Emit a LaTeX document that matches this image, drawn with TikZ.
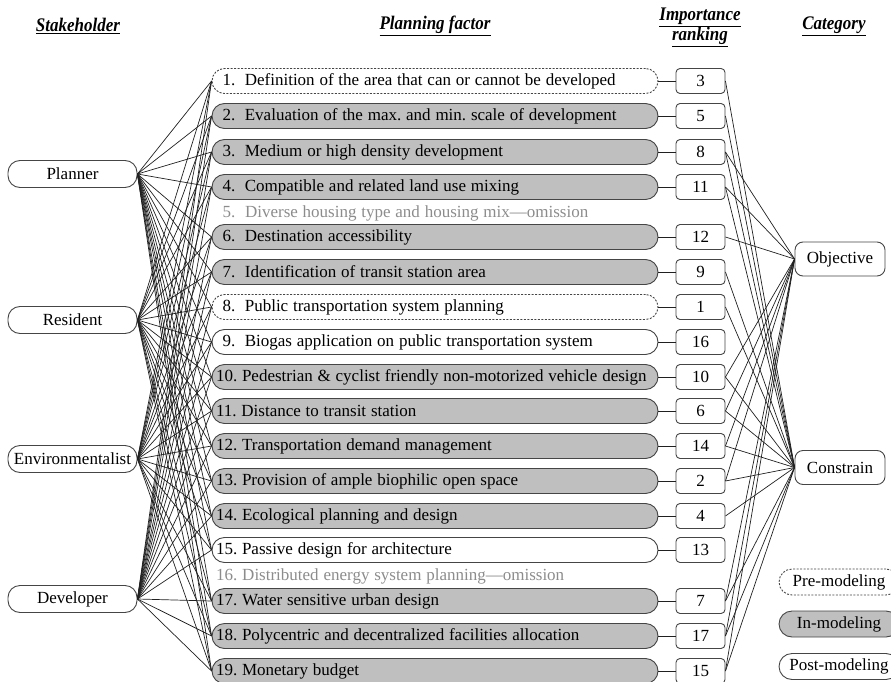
\documentclass[tikz,border=0pt]{standalone}
\usepackage{fontspec}
\setmainfont{Liberation Serif}
\definecolor{modgray}{HTML}{BFBFBF}
\definecolor{bordergray}{HTML}{454545}
\definecolor{linegray}{HTML}{202020}
\definecolor{omitgray}{HTML}{8C8C8C}
\newcommand{\tightsp}{\frenchspacing\spaceskip=4.8pt plus 1pt minus 1pt\relax}
\newcommand{\fnumpre}[1]{\ifnum#1<10 \hspace*{6.5pt}#1.\ \ \else #1.\ \fi}
\newcommand{\hdr}[1]{\scalebox{1}[1.13]{\underline{#1}}}
\begin{document}
\begin{tikzpicture}[x=1pt,y=-1pt,
  every node/.style={font=\fontsize{17}{20}\selectfont},
  stake/.style={draw=bordergray, line width=0.9pt, rounded corners=12pt, minimum width=129pt, minimum height=27pt, inner sep=0pt},
  factor/.style={draw=bordergray, line width=0.9pt, rounded corners=12.5pt, minimum width=446pt, minimum height=25pt, text width=438pt, inner xsep=4pt, inner ysep=0pt, align=left},
  premod/.style={dash pattern=on 2pt off 1.5pt, fill=white},
  inmod/.style={fill=modgray},
  postmod/.style={fill=white},
  rankbox/.style={draw=bordergray, line width=0.9pt, rounded corners=4pt, minimum width=49pt, minimum height=25pt, inner sep=0pt},
  catbox/.style={draw=bordergray, line width=0.9pt, rounded corners=8pt, minimum width=90pt, minimum height=34pt, inner sep=0pt},
  legbox/.style={draw=bordergray, line width=0.9pt, rounded corners=13pt, minimum width=120pt, minimum height=26pt, inner sep=0pt},
  header/.style={font=\fontsize{17}{21}\selectfont\bfseries\itshape, align=center},
  omit/.style={text=omitgray, anchor=west, inner sep=0pt},
  conn/.style={draw=linegray, line width=0.7pt}
]
\useasboundingbox (0,0) rectangle (891,682);
\clip (0,0) rectangle (891,682);

% headers
\node[header] (hs) at (78,26) {\hdr{Stakeholder}};
\node[header] (hp) at (435,26) {\hdr{Planning factor}};
\node[header] (hr) at (700,27) {\hdr{Importance}\\[-1pt]\hdr{ranking}};
\node[header] (hc) at (834,26) {\hdr{Category}};

% stakeholders
\node[stake] (s1) at (72.5,174) {Planner};
\node[stake] (s2) at (72.5,320) {Resident};
\node[stake] (s3) at (72.5,459) {Environmentalist};
\node[stake] (s4) at (72.5,599) {Developer};

% planning factors and rankings
\foreach \i/\y/\st/\rk/\txt in {
  1/81/premod/3/Definition of the area that can or cannot be developed,
  2/116/inmod/5/Evaluation of the max. and min. scale of development,
  3/152/inmod/8/Medium or high density development,
  4/187/inmod/11/Compatible and related land use mixing,
  6/237/inmod/12/Destination accessibility,
  7/272/inmod/9/Identification of transit station area,
  8/307/premod/1/Public transportation system planning,
  9/342/postmod/16/Biogas application on public transportation system,
  10/377/inmod/10/Pedestrian \& cyclist friendly non-motorized vehicle design,
  11/411/inmod/6/Distance to transit station,
  12/446/inmod/14/Transportation demand management,
  13/481/inmod/2/Provision of ample biophilic open space,
  14/516/inmod/4/Ecological planning and design,
  15/550/postmod/13/Passive design for architecture,
  17/601/inmod/7/Water sensitive urban design,
  18/636/inmod/17/Polycentric and decentralized facilities allocation,
  19/671/inmod/15/Monetary budget}{
  \node[factor,\st] (f\i) at (435,\y) {\tightsp\fnumpre{\i}\txt};
  \node[rankbox] (r\i) at (700.5,\y) {\rk};
  \draw[conn] (f\i.east) -- (r\i.west);
}

% omitted factors
\node[omit] (o5) at (222.5,213) {\tightsp 5.\ \ Diverse housing type and housing mix—omission};
\node[omit] (o16) at (216,576) {\tightsp 16. Distributed energy system planning—omission};

% categories
\node[catbox] (cO) at (840,259) {Objective};
\node[catbox] (cC) at (840,467.5) {Constrain};

% legend
\node[legbox,premod] (l1) at (839,582) {Pre-modeling};
\node[legbox,inmod] (l2) at (839,624) {In-modeling};
\node[legbox,postmod] (l3) at (839,666.5) {Post-modeling};

% stakeholder -> factor connectors
\foreach \s in {1,2,3,4}{
  \foreach \f in {1,2,3,4,6,7,8,9,10,11,12,13,14,15,17,18,19}{
    \draw[conn] (s\s.east) -- (f\f.west);
  }
}

% ranking -> category connectors
\foreach \f in {3,4,6,10,11,12,13,17,18,19}{
  \draw[conn] (r\f.east) -- (cO.west);
}
\foreach \f in {1,2,3,4,7,8,10,11,12,13,14,17,18,19}{
  \draw[conn] (r\f.east) -- (cC.west);
}
\end{tikzpicture}
\end{document}
